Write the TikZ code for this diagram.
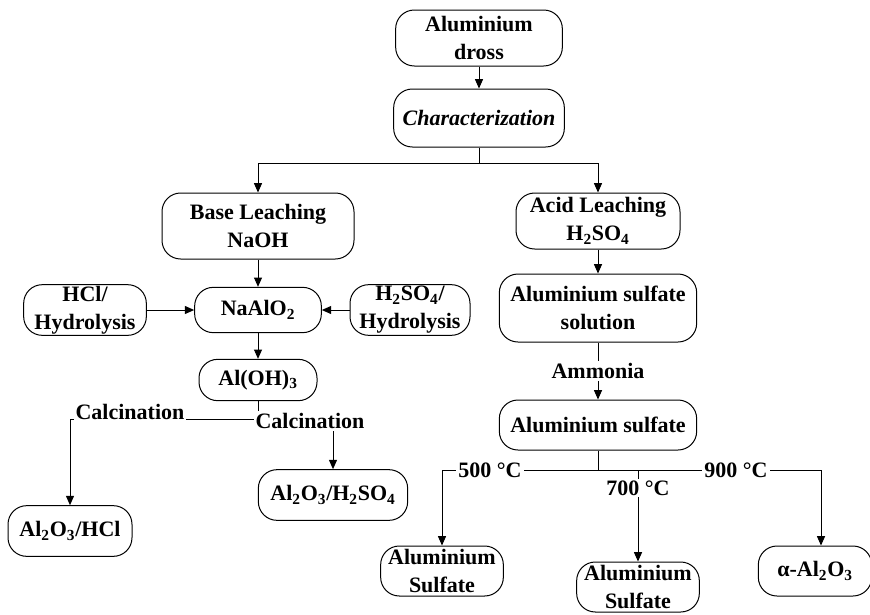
\documentclass[tikz,border=0pt]{standalone}
\usepackage{fontspec}
\setmainfont{Liberation Serif}
\usetikzlibrary{arrows.meta}

\tikzset{every picture/.style={line width=0.75pt}}
\tikzset{
  stadium/.style={draw, rectangle, rounded corners=14pt, align=center, inner sep=0pt,
    font=\bfseries\fontsize{16.5}{21}\selectfont},
  steplabel/.style={fill=white, inner sep=1.5pt, font=\bfseries\fontsize{16.5}{21}\selectfont},
  flow/.style={-{Triangle[length=7pt,width=6pt]}}
}

\begin{document}
\begin{tikzpicture}[x=0.75pt,y=0.75pt,yscale=-1,xscale=1]
\useasboundingbox (0,0) rectangle (870,614);

% Shape: Rounded Rect
\node [stadium, minimum width=125pt, minimum height=42pt] (dross) at (479,38) {Aluminium\\dross};
\node [stadium, minimum width=128pt, minimum height=43.5pt] (charac) at (479,118) {\textit{Characterization}};
\node [stadium, minimum width=144pt, minimum height=49.5pt] (base) at (258,226) {Base Leaching\\NaOH};
\node [stadium, minimum width=123pt, minimum height=42pt] (acid) at (598,221) {Acid Leaching\\H\textsubscript{2}SO\textsubscript{4}};
\node [stadium, minimum width=95pt, minimum height=34pt] (naalo) at (258,310) {NaAlO\textsubscript{2}};
\node [stadium, minimum width=92pt, minimum height=38pt] (hclhyd) at (85,310) {HCl/\\Hydrolysis};
\node [stadium, minimum width=90pt, minimum height=38pt] (acidhyd) at (410,310) {H\textsubscript{2}SO\textsubscript{4}/\\Hydrolysis};
\node [stadium, minimum width=88.5pt, minimum height=31pt] (aloh) at (258,380) {Al(OH)\textsubscript{3}};
\node [stadium, minimum width=93pt, minimum height=38pt] (alohcl) at (70,531) {Al\textsubscript{2}O\textsubscript{3}/HCl};
\node [stadium, minimum width=112pt, minimum height=38pt] (alosul) at (333,495) {Al\textsubscript{2}O\textsubscript{3}/H\textsubscript{2}SO\textsubscript{4}};
\node [stadium, minimum width=148pt, minimum height=51pt] (solution) at (598,308) {Aluminium sulfate\\solution};
\node [stadium, minimum width=148pt, minimum height=37.5pt] (sulfate) at (598,425) {Aluminium sulfate};
\node [stadium, minimum width=92pt, minimum height=37.5pt] (sulfa) at (442,571) {Aluminium\\Sulfate};
\node [stadium, minimum width=92pt, minimum height=37.5pt] (sulfb) at (638,587) {Aluminium\\Sulfate};
\node [stadium, minimum width=85pt, minimum height=37.5pt] (alpha) at (815,571) {α-Al\textsubscript{2}O\textsubscript{3}};

% Junctions
\coordinate (split) at (479,163);
\coordinate (calc) at (258,419);
\coordinate (heat) at (598,470);
\coordinate (heatmid) at (638,470);

%Straight Lines
\draw [flow] (dross) -- (charac);
\draw (charac) -- (split);
\draw [flow] (split) -| (base);
\draw [flow] (split) -| (acid);
\draw [flow] (base) -- (naalo);
\draw [flow] (hclhyd) -- (naalo);
\draw [flow] (acidhyd) -- (naalo);
\draw [flow] (naalo) -- (aloh);
\draw (aloh) -- (calc);
\draw [flow] (calc) -| (alohcl);
\draw [flow] (calc) -| (alosul);
\draw [flow] (acid) -- (solution);
\draw [flow] (solution) -- (sulfate);
\draw (sulfate) -- (heat);
\draw [flow] (heat) -| (sulfa);
\draw [flow] (heat) -| ([xshift=4.5pt]alpha.north);
\draw [flow] (heatmid) -- (sulfb);

% Text Node
\node [steplabel] (calca) at (130,412) {Calcination};
\node [steplabel] (calcb) at (310,421) {Calcination};
\node [steplabel] (ammonia) at (598,371) {Ammonia};
\node [steplabel] (tfive) at (490,470) {500 °C};
\node [steplabel] (tnine) at (736,470) {900 °C};
\node [steplabel] (tseven) at (638,488) {700 °C};

\end{tikzpicture}
\end{document}
